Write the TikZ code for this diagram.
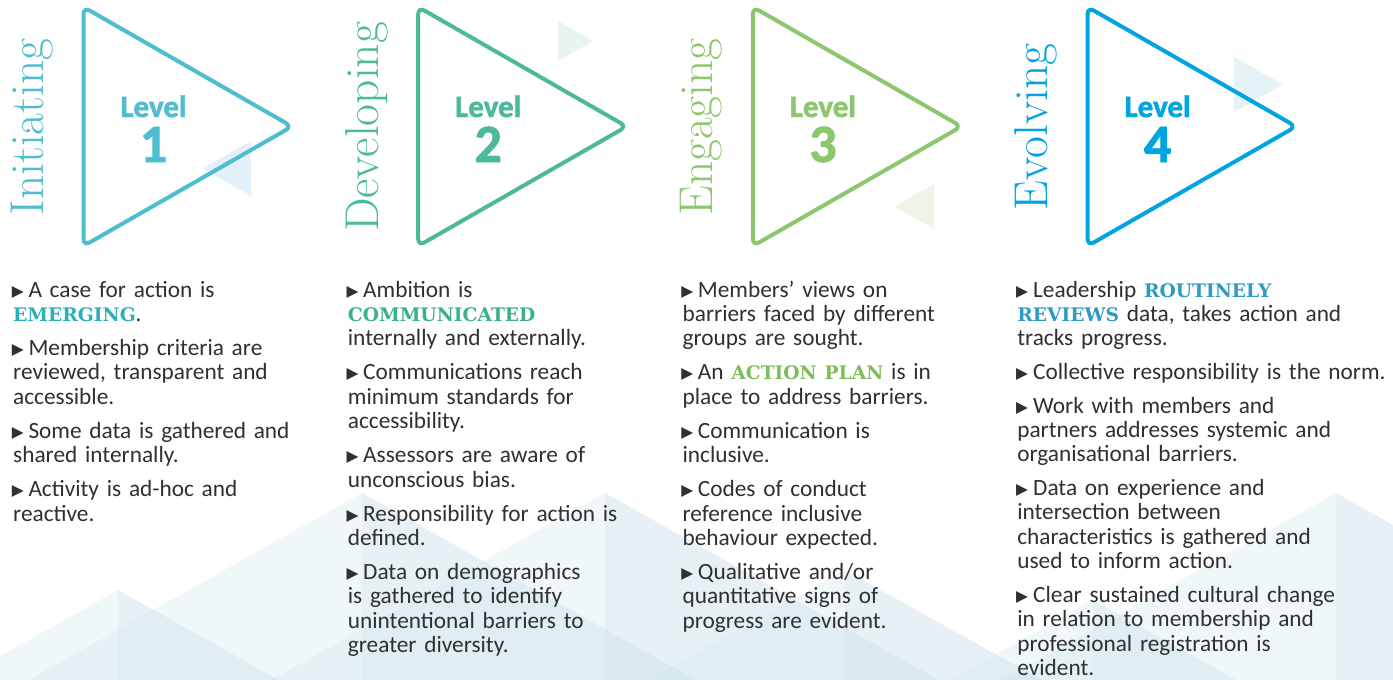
\documentclass[tikz,border=0pt]{standalone}
\usepackage{fontspec}
\newfontfamily\bodyfont{Carlito}
\newfontfamily\heavyfont[BoldFeatures={FakeBold=1.6}]{Carlito}
\newfontfamily\slabfont{DejaVu Serif}
\newfontfamily\symfont{DejaVu Sans}
\definecolor{lvA}{RGB}{77,189,207}
\definecolor{lvB}{RGB}{76,185,156}
\definecolor{lvC}{RGB}{140,199,109}
\definecolor{lvD}{RGB}{0,164,222}
\definecolor{hlA}{RGB}{43,175,186}
\definecolor{hlB}{RGB}{59,176,142}
\definecolor{hlC}{RGB}{125,190,90}
\definecolor{hlD}{RGB}{46,155,196}
\definecolor{smA}{RGB}{228,240,250}
\definecolor{smB}{RGB}{232,244,240}
\definecolor{smC}{RGB}{237,245,232}
\definecolor{smD}{RGB}{230,243,246}
\definecolor{txt}{RGB}{48,48,48}
\definecolor{mtn}{RGB}{208,229,237}
\newcommand\bulmark{\hspace*{-1.2pt}\raisebox{0.9pt}{\symfont\fontsize{15.5}{15.5}\selectfont ▶}}
\newcommand\bitem[2][15.3pt]{\noindent\hangindent=#1\hangafter=1\makebox[#1][l]{\bulmark}#2\par}
\newcommand\hlw[2]{{\slabfont\bfseries\fontsize{18.7}{24.4}\selectfont\color{#1}#2}}
\tikzset{
  lvtri/.style={line width=4pt, rounded corners=7pt, line join=round},
  vlabel/.style={rotate=90, inner sep=0pt, font=\fontsize{47.5}{47.5}\selectfont},
  levelword/.style={inner sep=0pt, anchor=base, font=\heavyfont\bfseries\fontsize{31}{31}\selectfont},
  levelnum/.style={inner sep=0pt, anchor=base, font=\heavyfont\bfseries\fontsize{54}{54}\selectfont},
  colbox/.style={inner sep=0pt, anchor=base west, text width=380pt, text=txt,
    font=\bodyfont\fontsize{23.3}{24.4}\selectfont},
}
\begin{document}
\begin{tikzpicture}[x=1pt,y=-1pt]
\useasboundingbox (0,0) rectangle (1393,680);
\fill[white] (0,0) rectangle (1393,680);
% background mountains
\begin{scope}
\clip (0,0) rectangle (1393,680);
\foreach \px/\py in {118/590, 362/493, 605/493, 845/570, 1093/600, 1336/493} {
  \pgfmathsetmacro\hw{(680-\py)/0.56}
  \fill[mtn, opacity=0.3] (\px,\py) -- (\px-\hw,680) -- (\px,680) -- cycle;
  \fill[mtn, opacity=0.5] (\px,\py) -- (\px+\hw,680) -- (\px,680) -- cycle;
}
\end{scope}
% small decorative triangles
\fill[smA] (251,141) -- (251,196) -- (203,168.5) -- cycle;
\fill[smB] (558,21) -- (558,61) -- (593,41) -- cycle;
\fill[smC] (934,184) -- (934,229) -- (895,206.5) -- cycle;
\fill[smD] (1234,57) -- (1234,112) -- (1283,84.5) -- cycle;
% main triangles
\draw[lvtri, draw=lvA] (83.5,7) -- (83.5,246) -- (292,126.5) -- cycle;
\draw[lvtri, draw=lvB] (418.2,7) -- (418.2,246) -- (626.7,126.5) -- cycle;
\draw[lvtri, draw=lvC] (752.9,7) -- (752.9,246) -- (961.4,126.5) -- cycle;
\draw[lvtri, draw=lvD] (1087.6,7) -- (1087.6,246) -- (1296.1,126.5) -- cycle;
% vertical labels
\node[vlabel, text=lvA] (lab1) at (32,127) {Initiating};
\node[vlabel, text=lvB] (lab2) at (366.7,127) {Developing};
\node[vlabel, text=lvC] (lab3) at (701.4,127) {Engaging};
\node[vlabel, text=lvD] (lab4) at (1036.1,127) {Evolving};
% level words and numbers
\node[levelword, text=lvA] (lev1) at (153.5,117) {Level};
\node[levelword, text=lvB] (lev2) at (488.2,117) {Level};
\node[levelword, text=lvC] (lev3) at (822.9,117) {Level};
\node[levelword, text=lvD] (lev4) at (1157.6,117) {Level};
\node[levelnum, text=lvA] (num1) at (153.5,162) {1};
\node[levelnum, text=lvB] (num2) at (488.2,162) {2};
\node[levelnum, text=lvC] (num3) at (822.9,162) {3};
\node[levelnum, text=lvD] (num4) at (1157.6,162) {4};
% columns of bullets
\node[colbox] (col1) at (13,297) {\raggedright\setlength{\parskip}{9.6pt}%
\bitem{A case for action is\\ \hlw{hlA}{EMERGING}.}
\bitem{Membership criteria are\\ reviewed, transparent and\\ accessible.}
\bitem{Some data is gathered and\\ shared internally.}
\bitem{Activity is ad-hoc and\\ reactive.}};
\node[colbox] (col2) at (347.7,297) {\raggedright\setlength{\parskip}{9.6pt}%
\bitem{Ambition is\\ \hlw{hlB}{COMMUNICATED}\\ internally and externally.}
\bitem{Communications reach\\ minimum standards for\\ accessibility.}
\bitem{Assessors are aware of\\ unconscious bias.}
\bitem{Responsibility for action is\\ defined.}
\bitem{Data on demographics\\ is gathered to identify\\ unintentional barriers to\\ greater diversity.}};
\node[colbox] (col3) at (682.4,297) {\raggedright\setlength{\parskip}{9.6pt}%
\bitem{Members’ views on\\ barriers faced by different\\ groups are sought.}
\bitem{An \hlw{hlC}{ACTION PLAN} is in\\ place to address barriers.}
\bitem{Communication is\\ inclusive.}
\bitem{Codes of conduct\\ reference inclusive\\ behaviour expected.}
\bitem{Qualitative and/or\\ quantitative signs of\\ progress are evident.}};
\node[colbox] (col4) at (1017.1,297) {\raggedright\setlength{\parskip}{9.2pt}%
\bitem[15.9pt]{Leadership \hlw{hlD}{ROUTINELY}\\ \hlw{hlD}{REVIEWS} data, takes action and\\ tracks progress.}
\bitem[15.9pt]{Collective responsibility is the norm.}
\bitem[15.9pt]{Work with members and\\ partners addresses systemic and\\ organisational barriers.}
\bitem[15.9pt]{Data on experience and\\ intersection between\\ characteristics is gathered and\\ used to inform action.}
\bitem[15.9pt]{Clear sustained cultural change\\ in relation to membership and\\ professional registration is\\ evident.}};
\end{tikzpicture}
\end{document}
